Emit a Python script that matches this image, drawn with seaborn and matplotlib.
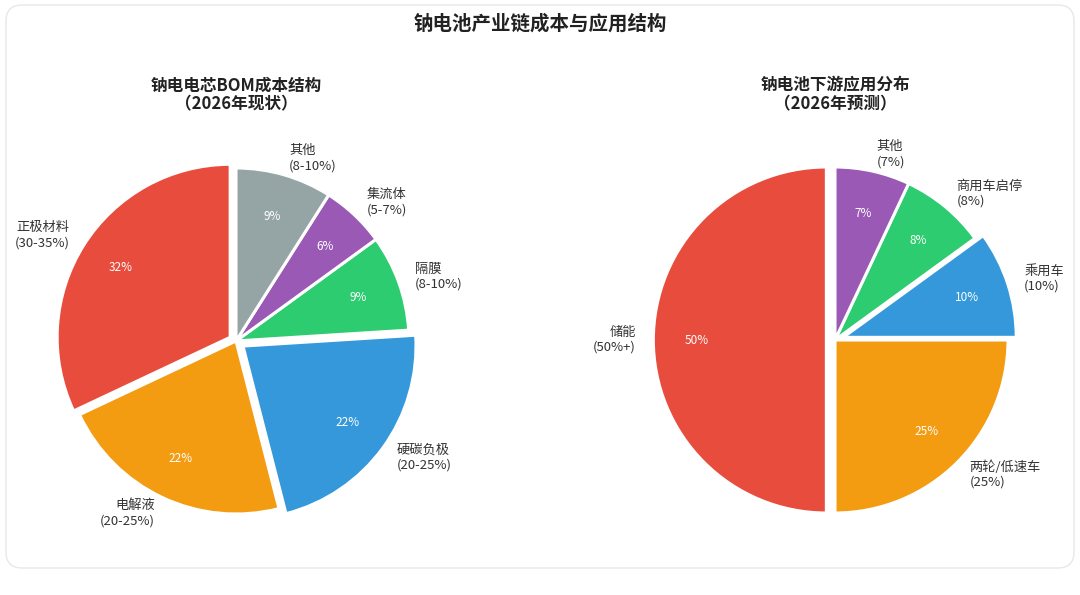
import matplotlib
matplotlib.use("Agg")
import matplotlib.pyplot as plt
import seaborn as sns
from matplotlib.patches import FancyBboxPatch
from matplotlib.transforms import IdentityTransform

# ---- data ----
bom_parts = ['正极材料', '电解液', '硬碳负极', '隔膜', '集流体', '其他']
bom_ranges = ['30-35%', '20-25%', '20-25%', '8-10%', '5-7%', '8-10%']
bom_values = [32, 22, 22, 9, 6, 9]
bom_colors = ['#e74c3c', '#f39c12', '#3498db', '#2ecc71', '#9b59b6', '#95a5a6']
bom_explode = [0.04, 0, 0.05, 0, 0, 0]

app_parts = ['储能', '两轮/低速车', '乘用车', '商用车启停', '其他']
app_ranges = ['50%+', '25%', '10%', '8%', '7%']
app_values = [50, 25, 10, 8, 7]
app_colors = ['#e74c3c', '#f39c12', '#3498db', '#2ecc71', '#9b59b6']
app_explode = [0.05, 0, 0.05, 0, 0]

sns.set_theme(style="white")
plt.rcParams['font.family'] = ['Noto Sans CJK SC', 'DejaVu Sans']

W, H = 1080, 595
fig = plt.figure(figsize=(W / 100, H / 100), dpi=100)
fig.patch.set_facecolor('white')

# card background (outline only, behind everything)
card = FancyBboxPatch((6, 27), 1068, 563, boxstyle="round,pad=0,rounding_size=16",
                      transform=IdentityTransform(), facecolor='none',
                      edgecolor='#e8e8e8', linewidth=1.0, zorder=-10)
fig.patches.append(card)

fig.text(540 / W, 1 - 24 / H, '钠电池产业链成本与应用结构', ha='center', va='center',
         fontsize=14, fontweight='bold', color='#222222')

R = 173.0   # pie radius in pixels
HALF = 230.0


def draw_pie(cx, cy, parts, ranges, values, colors, explode, title):
    # cx, cy in pixels from top-left
    left = (cx - HALF) / W
    bottom = (H - cy - HALF) / H
    ax = fig.add_axes([left, bottom, 2 * HALF / W, 2 * HALF / H])
    labels = [f'{p}\n({r})' for p, r in zip(parts, ranges)]
    wedges, texts, autotexts = ax.pie(
        values, labels=labels, colors=sns.color_palette(colors), explode=explode,
        startangle=90, autopct='%1.0f%%', pctdistance=0.75, labeldistance=1.1,
        wedgeprops=dict(edgecolor='white', linewidth=2.2),
        textprops=dict(fontsize=9.5, color='#333333'))
    for t in autotexts:
        t.set_color('white')
        t.set_fontsize(8.5)
    lim = HALF / R
    ax.set_xlim(-lim, lim)
    ax.set_ylim(-lim, lim)
    ax.set_aspect('equal')
    ax.axis('off')
    fig.text(cx / W, 1 - 95 / H, title, ha='center', va='center', fontsize=12,
             fontweight='bold', color='#222222', linespacing=1.1)
    return ax


draw_pie(236, 341, bom_parts, bom_ranges, bom_values, bom_colors, bom_explode,
         '钠电电芯BOM成本结构\n（2026年现状）')
draw_pie(835, 340, app_parts, app_ranges, app_values, app_colors, app_explode,
         '钠电池下游应用分布\n（2026年预测）')

fig.savefig('out.png', dpi=100, facecolor='white')
